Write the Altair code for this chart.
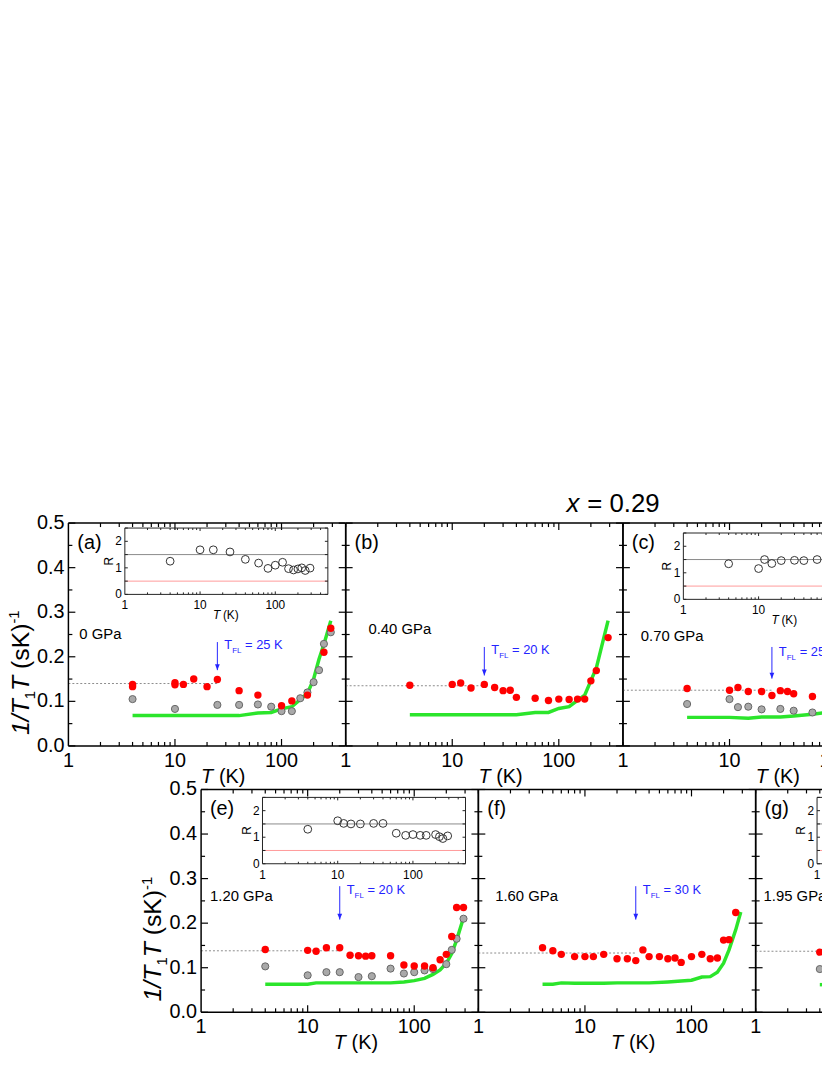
import altair as alt
import pandas as pd

FONT = "Liberation Sans"
RED = "#ff0000"
GRAY_FILL = "#a9a9a9"
GRAY_EDGE = "#666666"
GREEN = "#2be52b"
BLUE = "#2424ff"

# ---------------- data ----------------
# panel (a) 0 GPa
a_red_T = [4, 4, 10, 10, 12, 15, 20, 25, 40, 60, 100, 125, 175, 250, 290]
a_red_v = [0.133, 0.138, 0.142, 0.137, 0.138, 0.150, 0.133, 0.149, 0.124, 0.114, 0.090, 0.101, 0.114, 0.210, 0.264]
a_gray_T = [4, 10, 25, 40, 60, 80, 100, 125, 150, 175, 200, 225, 250, 290]
a_gray_v = [0.105, 0.083, 0.092, 0.092, 0.093, 0.088, 0.078, 0.078, 0.107, 0.120, 0.143, 0.170, 0.229, 0.255]
a_green_T = [4, 40, 60, 80, 100, 125, 175, 200, 225, 250, 290]
a_green_v = [0.068, 0.068, 0.074, 0.075, 0.083, 0.088, 0.118, 0.150, 0.195, 0.228, 0.281]
a_R_T = [4, 10, 15, 25, 40, 60, 80, 100, 125, 150, 175, 200, 225, 250, 290]
a_R_v = [1.25, 1.68, 1.68, 1.60, 1.32, 1.18, 0.98, 1.10, 1.21, 0.97, 0.92, 0.96, 1.00, 0.90, 0.99]

# panel (b) 0.40 GPa
b_red_T = [4, 10, 12, 15, 20, 25, 30, 35, 40, 60, 80, 100, 125, 150, 175, 200, 225, 290]
b_red_v = [0.136, 0.138, 0.141, 0.130, 0.138, 0.131, 0.124, 0.125, 0.109, 0.107, 0.102, 0.105, 0.104, 0.105, 0.105, 0.146, 0.169, 0.243]
b_green_T = [4, 40, 60, 80, 100, 125, 175, 225, 290]
b_green_v = [0.070, 0.070, 0.075, 0.075, 0.084, 0.088, 0.114, 0.175, 0.281]

# panel (c) 0.70 GPa
c_red_T = [4, 10, 12, 15, 20, 25, 30, 35, 40, 60, 80]
c_red_v = [0.129, 0.125, 0.131, 0.122, 0.122, 0.113, 0.124, 0.122, 0.117, 0.111, 0.097]
c_gray_T = [4, 10, 12, 15, 20, 30, 40, 60]
c_gray_v = [0.094, 0.105, 0.087, 0.088, 0.082, 0.083, 0.079, 0.075]
c_green_T = [4, 10, 15, 20, 30, 40, 60, 80]
c_green_v = [0.064, 0.064, 0.062, 0.065, 0.065, 0.067, 0.071, 0.075]
c_R_T = [4, 10, 12, 15, 20, 30, 40, 60]
c_R_v = [1.34, 1.16, 1.50, 1.35, 1.46, 1.47, 1.46, 1.50]

# panel (e) 1.20 GPa
e_red_T = [4, 10, 12, 15, 20, 25, 30, 35, 40, 60, 80, 100, 125, 150, 175, 200, 225, 250, 290]
e_red_v = [0.141, 0.139, 0.137, 0.145, 0.145, 0.128, 0.127, 0.126, 0.127, 0.127, 0.106, 0.104, 0.104, 0.100, 0.118, 0.130, 0.170, 0.235, 0.235]
e_gray_T = [4, 10, 15, 20, 30, 40, 60, 80, 100, 125, 150, 200, 225, 250, 290]
e_gray_v = [0.103, 0.083, 0.090, 0.090, 0.079, 0.081, 0.098, 0.087, 0.090, 0.094, 0.097, 0.108, 0.140, 0.165, 0.210]
e_green_T = [4, 10, 12, 20, 40, 60, 80, 100, 125, 150, 175, 200, 225, 250, 290]
e_green_v = [0.063, 0.063, 0.066, 0.066, 0.066, 0.066, 0.068, 0.071, 0.076, 0.085, 0.095, 0.110, 0.132, 0.162, 0.212]
e_R_T = [4, 10, 12, 15, 20, 30, 40, 60, 80, 100, 125, 150, 200, 225, 250, 290]
e_R_v = [1.30, 1.62, 1.52, 1.50, 1.50, 1.52, 1.52, 1.15, 1.07, 1.10, 1.07, 1.07, 1.10, 1.02, 0.95, 1.05]

# panel (f) 1.60 GPa
f_red_T = [4, 5, 6, 8, 10, 12, 15, 20, 25, 30, 35, 40, 50, 60, 70, 80, 100, 125, 150, 175, 200, 225, 260]
f_red_v = [0.145, 0.138, 0.130, 0.125, 0.125, 0.125, 0.130, 0.120, 0.120, 0.116, 0.140, 0.125, 0.125, 0.120, 0.122, 0.112, 0.125, 0.130, 0.120, 0.122, 0.162, 0.163, 0.224]
f_green_T = [4, 5, 6, 8, 10, 15, 20, 30, 40, 60, 80, 100, 125, 150, 175, 200, 225, 260, 290]
f_green_v = [0.063, 0.063, 0.066, 0.065, 0.065, 0.065, 0.066, 0.066, 0.066, 0.068, 0.070, 0.072, 0.079, 0.080, 0.090, 0.110, 0.140, 0.185, 0.225]

# panel (g) 1.95 GPa (visible part only)
g_red_T = [4]
g_red_v = [0.135]
g_gray_T = [4]
g_gray_v = [0.097]
g_green_T = [4, 5]
g_green_v = [0.062, 0.062]

Y_MAJOR = [0.0, 0.1, 0.2, 0.3, 0.4, 0.5]
Y_MINOR = [0.05, 0.15, 0.25, 0.35, 0.45]
X_MAJOR = [1, 10, 100]
X_MINOR = [2, 3, 4, 5, 6, 7, 8, 9, 20, 30, 40, 50, 60, 70, 80, 90, 200, 300, 400]
R_TICKS = [0, 0.5, 1, 1.5, 2, 2.5]
R_LABELS = [0, 1, 2]

OX, OY = 8, 8          # page offset of the view
VW, VH = 822, 1050     # view size
W, H = 280, 225        # panel plot size
IW = 205               # inset width
DUMMY = pd.DataFrame({"d": [0]})
ARROW = "M -0.4 -1 L 0.4 -1 L 0 0 Z"
CW = {"1": .556, "/": .278, "T": .611, " ": .278, "(": .333, "s": .5, "K": .667, ")": .333, "-": .333}


def tw(s, size):
    return sum(CW.get(ch, .556) for ch in s) * size


def txt(text, x, y, size, italic=False, color="black", align="left", baseline="alphabetic", angle=0):
    return alt.Chart(DUMMY).mark_text(
        text=text, fontSize=size, font=FONT, fontStyle="italic" if italic else "normal",
        color=color, align=align, baseline=baseline, angle=angle, clip=True
    ).encode(x=alt.value(x), y=alt.value(y))


def ytitle(base_x, y_start):
    pieces = [("1/T", 25, True, 0), ("1", 15, False, 6), ("T", 25, True, 0),
              ("SP", 25, False, 0), ("(sK)", 25, False, 0), ("-1", 15, False, -10)]
    out = []
    y = y_start
    for text, size, it, shift in pieces:
        if text == "SP":
            y -= tw(" ", size)
            continue
        out.append(txt(text, base_x + shift, y, size, italic=it, angle=270))
        y -= tw(text, size)
    return out


def inset_group(q):
    x0 = q["x0"] - OX
    x1 = x0 + IW
    yt = q["yt"] - OY
    yb = q["yb"] - OY
    xi = alt.Scale(type="log", domain=[1, 500], range=[x0, x1], nice=False)
    yi = alt.Scale(domain=[0, 2.5], range=[yb, yt], nice=False, zero=False)

    def xd(v):
        return alt.XDatum(v, type="quantitative", scale=xi, axis=None)

    def yd(v):
        return alt.YDatum(v, type="quantitative", scale=yi, axis=None)

    base = alt.Chart(DUMMY)
    L = []
    L.append(base.mark_rule(color="#8a8a8a", strokeWidth=1, clip=True).encode(
        x=xd(1), x2=alt.X2Datum(500), y=yd(1.5)))
    L.append(base.mark_rule(color="#ff9a9a", strokeWidth=1, clip=True).encode(
        x=xd(1), x2=alt.X2Datum(500), y=yd(0.5)))
    for yv in (0, 2.5):
        L.append(base.mark_rule(color="#222", strokeWidth=1, clip=True).encode(
            x=xd(1), x2=alt.X2Datum(500), y=yd(yv)))
    for xv in (1, 500):
        L.append(base.mark_rule(color="#222", strokeWidth=1, clip=True).encode(
            x=xd(xv), y=yd(0), y2=alt.Y2Datum(2.5)))
    for vals, ln in (([10, 100], 3), (X_MINOR, 2)):
        df = pd.DataFrame({"v": vals})
        xe = alt.X("v:Q", scale=xi, axis=None)
        L.append(alt.Chart(df).mark_rule(color="#222", strokeWidth=1, clip=True).encode(
            x=xe, y=alt.value(yb), y2=alt.value(yb - ln)))
        L.append(alt.Chart(df).mark_rule(color="#222", strokeWidth=1, clip=True).encode(
            x=xe, y=alt.value(yt), y2=alt.value(yt + ln)))
    rt = pd.DataFrame({"v": R_TICKS})
    ye = alt.Y("v:Q", scale=yi, axis=None)
    L.append(alt.Chart(rt).mark_rule(color="#222", strokeWidth=1, clip=True).encode(
        y=ye, x=alt.value(x0), x2=alt.value(x0 + 3)))
    L.append(alt.Chart(rt).mark_rule(color="#222", strokeWidth=1, clip=True).encode(
        y=ye, x=alt.value(x1 - 3), x2=alt.value(x1)))
    if q.get("T"):
        cdf = pd.DataFrame({"T": q["T"], "R": q["R"]})
        L.append(alt.Chart(cdf).mark_point(shape="circle", filled=False, stroke="#333333",
                                           strokeWidth=1, size=62, opacity=1, clip=True).encode(
            x=alt.X("T:Q", scale=xi, axis=None), y=alt.Y("R:Q", scale=yi, axis=None)))
    xl = pd.DataFrame({"v": X_MAJOR, "lab": [str(v) for v in X_MAJOR]})
    L.append(alt.Chart(xl).mark_text(fontSize=12, font=FONT, color="black", baseline="middle",
                                     align="center", clip=True).encode(
        x=alt.X("v:Q", scale=xi, axis=None), y=alt.value(yb + 11), text="lab:N"))
    yl = pd.DataFrame({"v": R_LABELS, "lab": [str(v) for v in R_LABELS]})
    L.append(alt.Chart(yl).mark_text(fontSize=12, font=FONT, color="black", baseline="middle",
                                     align="right", clip=True).encode(
        y=alt.Y("v:Q", scale=yi, axis=None), x=alt.value(x0 - 3), text="lab:N"))
    L.append(txt("R", x0 - 16, (yt + yb) / 2, 12, angle=270, align="center", baseline="middle"))
    if q.get("xtitle", True):
        L.append(txt("T", x0 + 89, yb + 25, 12, italic=True))
        L.append(txt("(K)", x0 + 99, yb + 25, 12))
    return alt.layer(*L)


def panel_group(p):
    x0 = p["x0"] - OX
    x1 = x0 + W
    yt = p["yt"] - OY
    yb = yt + H
    xs = alt.Scale(type="log", domain=[1, 400], range=[x0, x1], nice=False)
    ys = alt.Scale(domain=[0, 0.5], range=[yb, yt], nice=False, zero=False)

    def xd(v):
        return alt.XDatum(v, type="quantitative", scale=xs, axis=None)

    def yd(v):
        return alt.YDatum(v, type="quantitative", scale=ys, axis=None)

    X = lambda f: alt.X(f, scale=xs, axis=None)
    Y = lambda f: alt.Y(f, scale=ys, axis=None)
    base = alt.Chart(DUMMY)
    L = []
    lvl, tend = p["dotted"]
    L.append(base.mark_rule(color="#8c8c8c", strokeDash=[2, 2], strokeWidth=1, clip=True).encode(
        x=xd(1), x2=alt.X2Datum(tend), y=yd(lvl)))
    gdf = pd.DataFrame({"T": p["green"][0], "v": p["green"][1]})
    L.append(alt.Chart(gdf).mark_line(color=GREEN, strokeWidth=3.5, clip=True).encode(
        x=X("T:Q"), y=Y("v:Q")))
    if p.get("gray"):
        ydf = pd.DataFrame({"T": p["gray"][0], "v": p["gray"][1]})
        L.append(alt.Chart(ydf).mark_point(shape="circle", filled=True, fill=GRAY_FILL, stroke=GRAY_EDGE,
                                           strokeWidth=1, size=52, opacity=1, clip=True).encode(
            x=X("T:Q"), y=Y("v:Q")))
    rdf = pd.DataFrame({"T": p["red"][0], "v": p["red"][1]})
    L.append(alt.Chart(rdf).mark_point(shape="circle", filled=True, color=RED, size=56, opacity=1,
                                       clip=True).encode(x=X("T:Q"), y=Y("v:Q")))
    # frame
    for yv in (0, 0.5):
        L.append(base.mark_rule(color="black", strokeWidth=1.5, clip=True).encode(
            x=xd(1), x2=alt.X2Datum(400), y=yd(yv)))
    for xv in (1, 400):
        L.append(base.mark_rule(color="black", strokeWidth=1.5, clip=True).encode(
            x=xd(xv), y=yd(0), y2=alt.Y2Datum(0.5)))
    # inward ticks
    for vals, ln in ((Y_MAJOR, 7), (Y_MINOR, 4)):
        df = pd.DataFrame({"v": vals})
        L.append(alt.Chart(df).mark_rule(color="black", strokeWidth=1.2, clip=True).encode(
            y=Y("v:Q"), x=alt.value(x0), x2=alt.value(x0 + ln)))
        L.append(alt.Chart(df).mark_rule(color="black", strokeWidth=1.2, clip=True).encode(
            y=Y("v:Q"), x=alt.value(x1 - ln), x2=alt.value(x1)))
    for vals, ln in (([10, 100], 7), (X_MINOR, 4)):
        df = pd.DataFrame({"v": vals})
        L.append(alt.Chart(df).mark_rule(color="black", strokeWidth=1.2, clip=True).encode(
            x=X("v:Q"), y=alt.value(yb), y2=alt.value(yb - ln)))
        L.append(alt.Chart(df).mark_rule(color="black", strokeWidth=1.2, clip=True).encode(
            x=X("v:Q"), y=alt.value(yt), y2=alt.value(yt + ln)))
    # tick labels
    xl = pd.DataFrame({"v": X_MAJOR, "lab": [str(v) for v in X_MAJOR]})
    L.append(alt.Chart(xl).mark_text(fontSize=20, font=FONT, color="black", baseline="middle",
                                     align="center", clip=True).encode(
        x=X("v:Q"), y=alt.value(yb + 15), text="lab:N"))
    if p["ylabels"]:
        yl = pd.DataFrame({"v": Y_MAJOR, "lab": ["%.1f" % v for v in Y_MAJOR]})
        L.append(alt.Chart(yl).mark_text(fontSize=20, font=FONT, color="black", baseline="middle",
                                         align="right", clip=True).encode(
            y=Y("v:Q"), x=alt.value(x0 - 4), text="lab:N"))
        L.extend(ytitle(x0 - 40, yt + 214))
    # arrow + T_FL label
    if p.get("arrow"):
        tfl, top, tip, laby = p["arrow"]
        L.append(base.mark_rule(color=BLUE, strokeWidth=1, clip=True).encode(
            x=xd(tfl), y=yd(top), y2=alt.Y2Datum(tip)))
        L.append(base.mark_point(shape=ARROW, filled=True, color=BLUE, size=144, opacity=1,
                                 strokeWidth=0, clip=True).encode(x=xd(tfl), y=yd(tip)))
        for text, size, dx, dy in (("T", 13, 7, 0), ("FL", 8, 15, 4), ("= %d K" % tfl, 13, 28, 0)):
            L.append(base.mark_text(text=text, fontSize=size, font=FONT, color=BLUE, align="left",
                                    baseline="alphabetic", dx=dx, dy=dy, clip=True).encode(
                x=xd(tfl), y=yd(laby)))
    # texts
    L.append(txt(p["label"], x0 + 9, yt + 26, 20))
    gx, gy = p["gpa_pos"]
    L.append(txt(p["gpa"], x0 + gx, yt + gy, 15))
    L.append(txt("T", x0 + 134, yb + 37, 20, italic=True))
    L.append(txt("(K)", x0 + 152, yb + 37, 20))
    for item in p.get("extra", []):
        L.append(item)
    return alt.layer(*L)


TOP, BOT = 523, 792
groups = [
    panel_group(dict(x0=69, yt=TOP, red=(a_red_T, a_red_v), gray=(a_gray_T, a_gray_v),
                     green=(a_green_T, a_green_v), dotted=(0.140, 25), arrow=(25, 0.233, 0.170, 0.218),
                     label="(a)", gpa="0 GPa", gpa_pos=(11, 117), ylabels=True)),
    inset_group(dict(x0=126, yt=528, yb=595, T=a_R_T, R=a_R_v)),
    panel_group(dict(x0=349, yt=TOP, red=(b_red_T, b_red_v), green=(b_green_T, b_green_v),
                     dotted=(0.135, 20), arrow=(20, 0.222, 0.158, 0.207), label="(b)", gpa="0.40 GPa",
                     gpa_pos=(23, 112), ylabels=False,
                     extra=[txt("x", 572 - OX, 512 - OY, 26, italic=True),
                            txt("= 0.29", 593 - OX, 512 - OY, 26)])),
    panel_group(dict(x0=629, yt=TOP, red=(c_red_T, c_red_v), gray=(c_gray_T, c_gray_v),
                     green=(c_green_T, c_green_v), dotted=(0.125, 25), arrow=(25, 0.222, 0.151, 0.202),
                     label="(c)", gpa="0.70 GPa", gpa_pos=(18, 119), ylabels=False)),
    inset_group(dict(x0=690, yt=533, yb=600, T=c_R_T, R=c_R_v)),
    panel_group(dict(x0=203, yt=BOT, red=(e_red_T, e_red_v), gray=(e_gray_T, e_gray_v),
                     green=(e_green_T, e_green_v), dotted=(0.138, 20), arrow=(20, 0.283, 0.208, 0.265),
                     label="(e)", gpa="1.20 GPa", gpa_pos=(9, 113), ylabels=True)),
    inset_group(dict(x0=265, yt=BOT + 8, yb=BOT + 75, T=e_R_T, R=e_R_v, xtitle=False)),
    panel_group(dict(x0=483, yt=BOT, red=(f_red_T, f_red_v), green=(f_green_T, f_green_v),
                     dotted=(0.133, 30), arrow=(30, 0.283, 0.208, 0.265), label="(f)", gpa="1.60 GPa",
                     gpa_pos=(17, 113), ylabels=False)),
    panel_group(dict(x0=763, yt=BOT, red=(g_red_T, g_red_v), gray=(g_gray_T, g_gray_v),
                     green=(g_green_T, g_green_v), dotted=(0.137, 5), label="(g)", gpa="1.95 GPa",
                     gpa_pos=(8, 113), ylabels=False)),
    inset_group(dict(x0=825, yt=BOT + 8, yb=BOT + 75, xtitle=False)),
]

chart = alt.layer(*groups).resolve_scale(x="independent", y="independent").properties(
    width=VW, height=VH, padding={"left": 0, "top": 0, "right": 0, "bottom": 0},
    background="white").configure_view(stroke=None)

chart.save("out.html", embed_options={"renderer": "svg", "actions": False})
